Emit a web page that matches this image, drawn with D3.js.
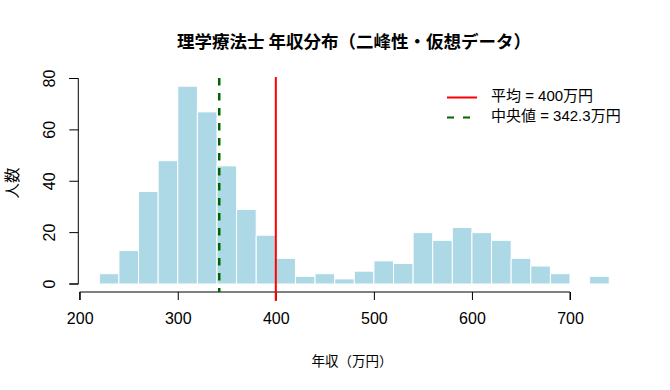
<!DOCTYPE html>
<html>
<head>
<meta charset="utf-8">
<script src="https://cdn.jsdelivr.net/npm/d3@7"></script>
<style>
  body { margin: 0; background: #fff; }
  text { font-family: "Liberation Sans", "Noto Sans CJK JP", sans-serif; }
  .jp { font-family: "Noto Sans CJK JP", "Liberation Sans", sans-serif; }
</style>
</head>
<body>
<div id="chart"></div>
<script>
// histogram bins (left edges, width 20) and counts
const binStarts = [220, 240, 260, 280, 300, 320, 340, 360, 380, 400, 420, 440, 460,
                   480, 500, 520, 540, 560, 580, 600, 620, 640, 660, 680, 700, 720];
const counts = [4, 13, 36, 48, 77, 67, 46, 29, 19, 10, 3, 4, 2,
                5, 9, 8, 20, 17, 22, 20, 17, 10, 7, 4, 0, 3];
const binWidth = 20;
const xTicks = [200, 300, 400, 500, 600, 700];
const yTicks = [0, 20, 40, 60, 80];
const meanVal = 400;
const medianVal = 342.3;

const width = 670, height = 390;

const svg = d3.select('#chart')
    .append('svg')
    .attr('width', width)
    .attr('height', height);

const x = d3.scaleLinear().domain([200, 700]).range([79.7, 570]);
const y = d3.scaleLinear().domain([0, 80]).range([284, 78.5]);

// bars
svg.selectAll('rect.bar')
    .data(binStarts.map((b, i) => ({ x0: b, n: counts[i] })).filter(d => d.n > 0))
    .enter()
    .append('rect')
    .attr('class', 'bar')
    .attr('x', d => x(d.x0))
    .attr('y', d => y(d.n))
    .attr('width', d => x(d.x0 + binWidth) - x(d.x0))
    .attr('height', d => y(0) - y(d.n))
    .attr('fill', '#add8e6')
    .attr('stroke', '#fff')
    .attr('stroke-width', 1);

// x axis
const xAxis = svg.append('g')
    .attr('transform', 'translate(0,292)')
    .call(d3.axisBottom(x).tickValues(xTicks).tickSize(8).tickPadding(13));
xAxis.select('.domain').attr('d', `M${x(200)},8V0H${x(700)}V8`).attr('stroke', '#000');
xAxis.selectAll('text').attr('font-size', 16).attr('fill', '#000')
    .style('font-family', '"Liberation Sans", sans-serif');

// y axis
const yAxis = svg.append('g')
    .attr('transform', 'translate(78.3,0)')
    .call(d3.axisLeft(y).tickValues(yTicks).tickSize(9).tickPadding(0));
yAxis.select('.domain').attr('d', `M-9,${y(0)}H0V${y(80)}H-9`).attr('stroke', '#000');
yAxis.selectAll('.tick').attr('transform', null);
yAxis.selectAll('.tick line').attr('transform', d => `translate(0,${y(d)})`);
yAxis.selectAll('text')
    .attr('font-size', 16)
    .attr('fill', '#000')
    .attr('text-anchor', 'middle')
    .attr('dy', null)
    .attr('x', 0)
    .attr('y', 0)
    .attr('dominant-baseline', 'middle')
    .attr('transform', d => `translate(-28,${y(d)}) rotate(-90)`)
    .style('font-family', '"Liberation Sans", sans-serif');

// mean and median lines
svg.append('line')
    .attr('x1', x(meanVal)).attr('x2', x(meanVal))
    .attr('y1', 77).attr('y2', 301)
    .attr('stroke', '#ff0000').attr('stroke-width', 2);
svg.append('line')
    .attr('x1', x(medianVal)).attr('x2', x(medianVal))
    .attr('y1', 78).attr('y2', 292)
    .attr('stroke', '#006400').attr('stroke-width', 2.5)
    .attr('stroke-dasharray', '7.5,7.5');

// title and labels
svg.append('text')
    .attr('class', 'jp')
    .attr('x', 354).attr('y', 48)
    .attr('text-anchor', 'middle')
    .attr('font-size', 17.5).attr('font-weight', 'bold')
    .text('理学療法士 年収分布（二峰性・仮想データ）');

svg.append('text')
    .attr('class', 'jp')
    .attr('x', 352).attr('y', 366)
    .attr('text-anchor', 'middle')
    .attr('font-size', 13.5)
    .text('年収（万円）');

svg.append('text')
    .attr('class', 'jp')
    .attr('transform', 'translate(18,183) rotate(-90)')
    .attr('text-anchor', 'middle')
    .attr('font-size', 15.5)
    .text('人数');

// legend
const legend = [
    { label: `平均 = ${meanVal}万円`, color: '#ff0000', dash: null, y: 97.5 },
    { label: `中央値 = ${medianVal}万円`, color: '#006400', dash: '7,9', y: 117.5 }
];
const lg = svg.append('g');
legend.forEach(d => {
    lg.append('line')
        .attr('x1', 447).attr('x2', 477)
        .attr('y1', d.y).attr('y2', d.y)
        .attr('stroke', d.color).attr('stroke-width', 2)
        .attr('stroke-dasharray', d.dash);
    lg.append('text')
        .attr('x', 491).attr('y', d.y)
        .attr('dominant-baseline', 'middle')
        .attr('font-size', 15)
        .text(d.label);
});
</script>
</body>
</html>
